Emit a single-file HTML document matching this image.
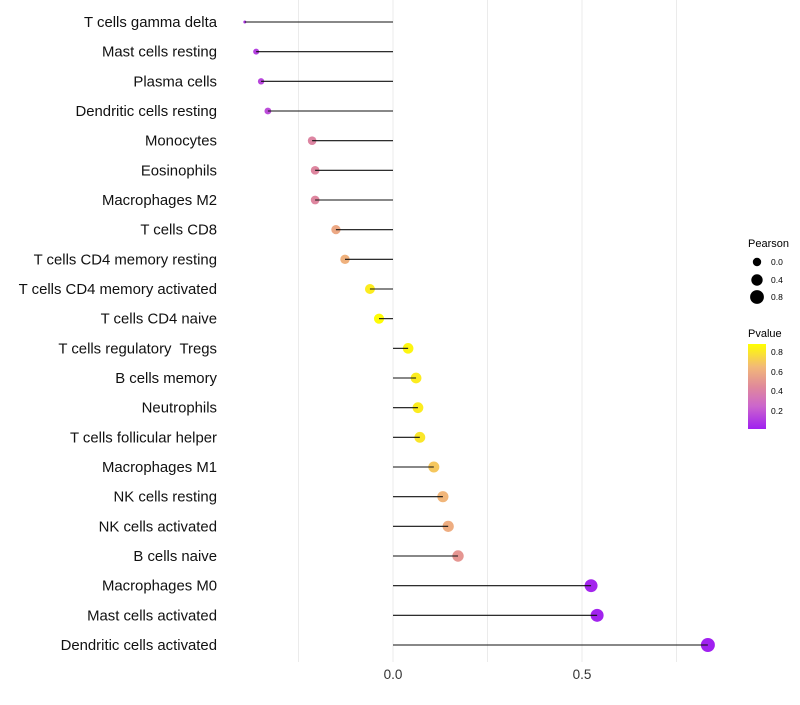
<!DOCTYPE html>
<html><head><meta charset="utf-8"><style>
body{margin:0;background:#fff;font-family:"Liberation Sans",sans-serif}
text{white-space:pre}
</style></head><body>
<svg id="chart" width="800" height="700" xmlns="http://www.w3.org/2000/svg" font-family="Liberation Sans, sans-serif">
<defs><linearGradient id="pg" x1="0" y1="1" x2="0" y2="0">
<stop offset="0" stop-color="#a020f0"/><stop offset="0.27" stop-color="#cc66cc"/><stop offset="0.5" stop-color="#e08a9a"/><stop offset="0.73" stop-color="#f2b878"/><stop offset="1" stop-color="#ffff00"/></linearGradient></defs>
<g id="grid"></g><g id="marks"></g><g id="labels"></g>
<g>
<text x="748" y="247" font-size="11" fill="#000">Pearson</text>
<circle cx="757" cy="262" r="4.2" fill="#000"/><text x="771" y="265" font-size="8.5">0.0</text>
<circle cx="757" cy="280" r="5.7" fill="#000"/><text x="771" y="283" font-size="8.5">0.4</text>
<circle cx="757" cy="297" r="6.9" fill="#000"/><text x="771" y="300" font-size="8.5">0.8</text>
<text x="748" y="337" font-size="11">Pvalue</text>
<rect x="748" y="344" width="18" height="85" fill="url(#pg)"/>
<text x="771" y="355" font-size="8.5">0.8</text><text x="771" y="375" font-size="8.5">0.6</text>
<text x="771" y="394" font-size="8.5">0.4</text><text x="771" y="414" font-size="8.5">0.2</text>
</g>
</svg>
<script>
const categories=["T cells gamma delta","Mast cells resting","Plasma cells","Dendritic cells resting","Monocytes","Eosinophils","Macrophages M2","T cells CD8","T cells CD4 memory resting","T cells CD4 memory activated","T cells CD4 naive","T cells regulatory  Tregs","B cells memory","Neutrophils","T cells follicular helper","Macrophages M1","NK cells resting","NK cells activated","B cells naive","Macrophages M0","Mast cells activated","Dendritic cells activated"];
const pearson=[-0.392,-0.362,-0.349,-0.331,-0.214,-0.206,-0.206,-0.151,-0.127,-0.061,-0.037,0.040,0.061,0.066,0.071,0.108,0.132,0.146,0.172,0.524,0.540,0.833];
const pvalues=[0.1,0.13,0.15,0.17,0.42,0.43,0.43,0.58,0.62,0.82,0.87,0.85,0.82,0.82,0.8,0.7,0.64,0.6,0.5,0.05,0.04,0.03];
const xTicks=[0,0.5];
const xGrid=[-0.25,0,0.25,0.5,0.75];
const NS="http://www.w3.org/2000/svg";
const x=v=>393+v*378;
const y=i=>22+i*(623/21);
const vmin=Math.min(...pearson),vmax=Math.max(...pearson);
const rad=v=>1.5+5.5*Math.pow((v-vmin)/(vmax-vmin),0.35);
const stops=[[0.03,[160,32,240]],[0.25,[204,102,204]],[0.45,[224,138,154]],[0.65,[242,184,120]],[0.88,[255,255,0]]];
function col(p){if(p<=stops[0][0])return rgb(stops[0][1]);for(let k=1;k<stops.length;k++){if(p<=stops[k][0]){const t=(p-stops[k-1][0])/(stops[k][0]-stops[k-1][0]);return rgb(stops[k-1][1].map((c,j)=>c+(stops[k][1][j]-c)*t));}}return rgb(stops[stops.length-1][1]);}
function rgb(a){return "rgb("+a.map(Math.round).join(",")+")";}
function mk(t,a,p){const e=document.createElementNS(NS,t);for(const k in a)e.setAttribute(k,a[k]);p.appendChild(e);return e;}
const grid=document.getElementById('grid'),marks=document.getElementById('marks'),labels=document.getElementById('labels');
xGrid.forEach(v=>{const l=mk('line',{x1:x(v),x2:x(v),y1:0,y2:662,stroke:'#ebebeb','stroke-width':1},grid);

});
xTicks.forEach(v=>{const t=mk('text',{x:x(v),y:679,'font-size':13.5,'text-anchor':'middle',fill:'#333'},labels);t.textContent=v.toFixed(1);

});
categories.forEach((c,i)=>{
const t=mk('text',{x:217,y:y(i)+5,'font-size':14.9,'text-anchor':'end',fill:'#111'},labels);t.textContent=c;


const p=mk('circle',{cx:x(pearson[i]),cy:y(i),r:rad(pearson[i]),fill:col(pvalues[i])},marks);


const l=mk('line',{x1:x(0),x2:x(pearson[i]),y1:y(i),y2:y(i),stroke:'#111','stroke-width':1.1},marks);


});
</script>
</body></html>
